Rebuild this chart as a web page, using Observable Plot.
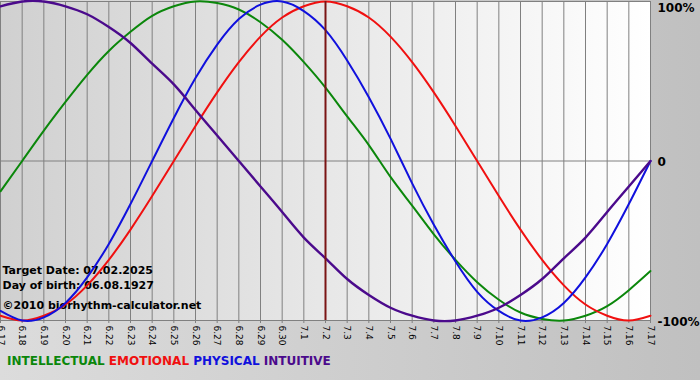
<!DOCTYPE html>
<html>
<head>
<meta charset="utf-8">
<script src="https://cdn.jsdelivr.net/npm/d3@7"></script>
<script src="https://cdn.jsdelivr.net/npm/@observablehq/plot@0.6"></script>
<style>
  html, body { margin: 0; padding: 0; }
  body {
    width: 700px; height: 380px; overflow: hidden;
    background: linear-gradient(to right, #dcdcdc, #c0c0c0);
    font-family: "DejaVu Sans", Verdana, sans-serif;
  }
  #legend {
    position: absolute; left: 7px; top: 354px;
    font: bold 12px "DejaVu Sans", Verdana, sans-serif;
    white-space: pre;
  }
  #chart svg { display: block; }
</style>
</head>
<body>
<svg width="0" height="0" style="position:absolute">
  <defs>
    <linearGradient id="plotbg" x1="0" y1="0" x2="1" y2="0">
      <stop offset="0" stop-color="#d0d0d0"/>
      <stop offset="1" stop-color="#ffffff"/>
    </linearGradient>
  </defs>
</svg>
<div id="chart"></div>
<div id="legend"></div>
<script>
const dates = ["6.17","6.18","6.19","6.20","6.21","6.22","6.23","6.24","6.25","6.26","6.27","6.28","6.29","6.30",
  "7.1","7.2","7.3","7.4","7.5","7.6","7.7","7.8","7.9","7.10","7.11","7.12","7.13","7.14","7.15","7.16","7.17"];

const intellectual = [-0.19,0,0.19,0.37,0.54,0.69,0.81,0.91,0.97,1.00,0.99,0.95,0.87,0.76,0.62,0.46,0.28,0.10,
  -0.10,-0.28,-0.46,-0.62,-0.76,-0.87,-0.95,-0.99,-1.00,-0.97,-0.91,-0.81,-0.69];
const emotional = [-0.97,-1.00,-0.97,-0.90,-0.78,-0.62,-0.43,-0.22,0,0.22,0.43,0.62,0.78,0.90,0.97,1.00,0.97,0.90,
  0.78,0.62,0.43,0.22,0,-0.22,-0.43,-0.62,-0.78,-0.90,-0.97,-1.00,-0.97];
const physical = [-0.94,-1.00,-0.98,-0.89,-0.73,-0.52,-0.27,0,0.27,0.52,0.73,0.89,0.98,1.00,0.94,0.82,0.63,0.40,
  0.14,-0.14,-0.40,-0.63,-0.82,-0.94,-1.00,-0.98,-0.89,-0.73,-0.52,-0.27,0];
const intuitive = [0.97,1.00,1.00,0.97,0.92,0.84,0.74,0.61,0.48,0.32,0.16,0,-0.16,-0.32,-0.48,-0.61,-0.74,-0.84,
  -0.92,-0.97,-1.00,-1.00,-0.97,-0.92,-0.84,-0.74,-0.61,-0.48,-0.32,-0.16,0];

const seriesNames = ["INTELLECTUAL","EMOTIONAL","PHYSICAL","INTUITIVE"];
const seriesColors = ["#0b870b","#f01010","#1010dd","#4b0a8c"];
const seriesValues = [intellectual, emotional, physical, intuitive];

const targetDate = "7.2";
const yTicks = [1, 0, -1];
const yTickLabels = ["100%", "0", "-100%"];
const infoLines = ["Target Date: 07.02.2025", "Day of birth: 06.08.1927", "©2010 biorhythm-calculator.net"];

const rows = seriesNames.flatMap((name, s) =>
  dates.map((d, i) => ({day: i, value: seriesValues[s][i], series: name})));

const font = "DejaVu Sans";
const dayIdx = dates.map((d, i) => i);
const lastIdx = dates.length - 1;
const targetIdx = dates.indexOf(targetDate);
const yLabelDy = [7, 1, 2];
const infoDy = [-47, -32, -12];

const plot = Plot.plot({
  width: 700,
  height: 345,
  marginLeft: 0,
  marginRight: 50,
  marginTop: 1,
  marginBottom: 25,
  style: {background: "transparent", fontFamily: font},
  x: {type: "linear", domain: [0, lastIdx], inset: 0},
  y: {domain: [-1, 1], inset: 0},
  color: {domain: seriesNames, range: seriesColors},
  marks: [
    Plot.frame({fill: "url(#plotbg)", stroke: null}),
    Plot.ruleX(dayIdx, {x: d => d, stroke: "#808080", strokeWidth: 1, strokeOpacity: 1}),
    Plot.ruleY(yTicks, {y: d => d, stroke: "#808080", strokeWidth: 1, strokeOpacity: 1}),
    Plot.axisX({ticks: dayIdx, tickFormat: i => dates[i], tickRotate: 90, tickSize: 3, tickPadding: 2,
      fontSize: 9, stroke: "#808080", fill: "black", label: null}),
    Plot.axisY({ticks: [], label: null, tickSize: 0}),
    ...yTicks.map((t, i) => Plot.text([yTickLabels[i]], {
      x: () => lastIdx, y: () => t, text: d => d,
      textAnchor: "start", dx: 7, dy: yLabelDy[i],
      fontWeight: "bold", fontSize: 12, fill: "black"
    })),
    ...infoLines.map((line, i) => Plot.text([line], {
      frameAnchor: "bottom-left", text: d => d,
      dx: 2, dy: infoDy[i],
      textAnchor: "start", fontWeight: "bold", fontSize: 11, fill: "black"
    })),
    Plot.line(rows, {x: "day", y: "value", z: "series", stroke: "series",
      strokeWidth: d => d.series === "INTUITIVE" ? 2.4 : 2, curve: "natural"}),
    Plot.ruleX([targetIdx], {x: d => d, stroke: "#7a1414", strokeWidth: 2})
  ]
});
document.getElementById("chart").appendChild(plot);

const legend = document.getElementById("legend");
seriesNames.forEach((n, i) => {
  const s = document.createElement("span");
  s.textContent = n + (i < seriesNames.length - 1 ? " " : "");
  s.style.color = seriesColors[i];
  legend.appendChild(s);
});
</script>
</body>
</html>
